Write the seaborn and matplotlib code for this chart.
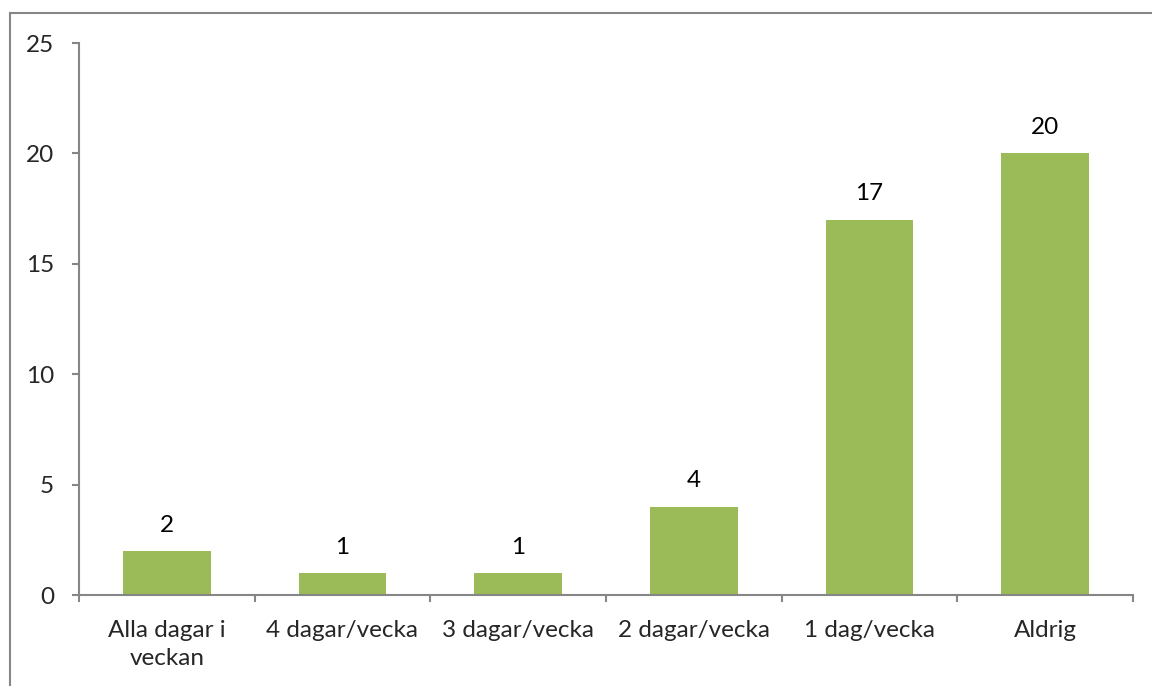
import numpy as np
import pandas as pd
import seaborn as sns
import matplotlib.pyplot as plt
from matplotlib.patches import Rectangle

categories = ["Alla dagar i\nveckan", "4 dagar/vecka", "3 dagar/vecka",
              "2 dagar/vecka", "1 dag/vecka", "Aldrig"]
values = [2, 1, 1, 4, 17, 20]
y_ticks = [0, 5, 10, 15, 20, 25]

sns.set_style("white")
plt.rcParams['font.family'] = ['Lato', 'DejaVu Sans']

df = pd.DataFrame({"cat": categories, "val": values})

fig = plt.figure(figsize=(11.52, 6.86), dpi=100)
ax = fig.add_axes([79 / 1152, 1 - 595 / 686, (1133 - 79) / 1152, (595 - 43) / 686])

sns.barplot(data=df, x="cat", y="val", color="#9BBB59", width=0.5,
            saturation=1, linewidth=0, ax=ax)
ax.bar_label(ax.containers[0], fmt="%d", padding=11, fontsize=17.5, color="black")

ax.set_ylim(0, 25)
ax.set_xlim(-0.5, len(categories) - 0.5)
ax.set_yticks(y_ticks)
ax.set_xlabel("")
ax.set_ylabel("")

gray = "#868686"
for side in ["top", "right"]:
    ax.spines[side].set_visible(False)
for side in ["left", "bottom"]:
    ax.spines[side].set_color(gray)
    ax.spines[side].set_linewidth(1.5)

ax.tick_params(axis="y", length=5, width=1.5, color=gray, labelsize=17.5, pad=13,
               direction="out", left=True)
ax.tick_params(axis="x", which="major", length=0, labelsize=17.5, pad=18)
for lbl in ax.get_xticklabels():
    lbl.set_linespacing(1.4)
ax.set_xticks(np.arange(-0.5, len(categories)), minor=True)
ax.tick_params(axis="x", which="minor", length=5, width=1.5, color=gray,
               direction="out", bottom=True)

# chart area border (cut off on right and bottom)
fig.patches.append(Rectangle((10 / 1152, -0.1), 1.2, 1 - 13 / 686 + 0.1,
                             transform=fig.transFigure, fill=False,
                             edgecolor=gray, linewidth=1.5))

fig.savefig("out.png", dpi=100)
